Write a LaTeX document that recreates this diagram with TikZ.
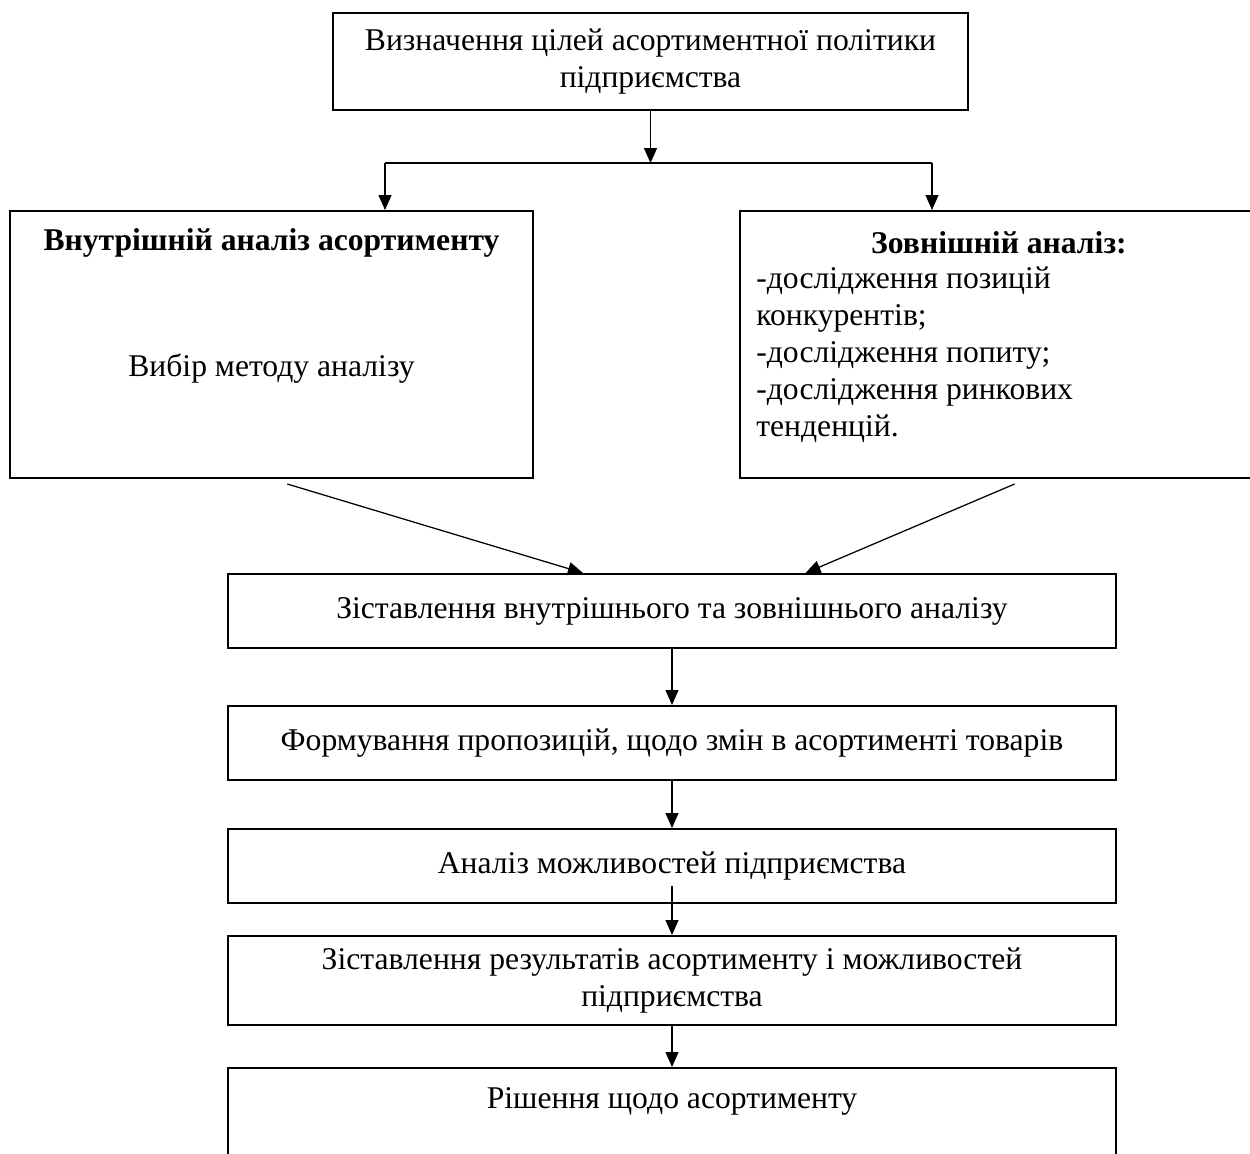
\documentclass[tikz,border=0pt]{standalone}
\usepackage{fontspec}
\setmainfont{Liberation Serif}
\usetikzlibrary{arrows.meta,positioning,calc}

\begin{document}
\begin{tikzpicture}[x=0.2mm,y=-0.2mm,>={Triangle[width=2.6mm,length=3mm]},font=\fontsize{18}{21}\selectfont]
  \tikzset{box/.style={draw,line width=0.4mm,inner sep=0pt,align=center},
    wide/.style={box,minimum width=177.6mm,minimum height=14.8mm},
    link/.style={->,line width=0.25mm}}
  \useasboundingbox (0,0) rectangle (1250,1153);
  \clip (0,0) rectangle (1250,1153);

  \node[box,minimum width=127mm,minimum height=19.4mm] (goals) at (650.5,61.5)
    {Визначення цілей асортиментної політики\\підприємства};

  \node[box,minimum width=104.6mm,minimum height=53.4mm] (inner) at (271.5,344.5) {};
  \node (innertitle) at ($(inner.north)+(0,33)$) {\textbf{Внутрішній аналіз асортименту}};
  \node (innermethod) at ($(inner.north)+(0,159)$) {Вибір методу аналізу};

  \node[box,minimum width=103.6mm,minimum height=53.4mm] (outer) at (999,344.5) {};
  \node (outertitle) at ($(outer.north)+(0,33)$) {\textbf{Зовнішній аналіз:}};
  \node[anchor=west,align=left,inner sep=0pt] (outerlist) at ($(outer.west)+(17,10)$)
    {-дослідження позицій\\
    конкурентів;\\
    -дослідження попиту;\\
    -дослідження ринкових\\
    тенденцій.};

  \node[wide] (compare) at (672,611) {Зіставлення внутрішнього та зовнішнього аналізу};
  \node[wide] (proposal) at (672,743) {Формування пропозицій, щодо змін в асортименті товарів};
  \node[wide] (capacity) at (672,866) {Аналіз можливостей підприємства};
  \node[wide,minimum height=17.8mm] (matching) at (672,980.5)
    {Зіставлення результатів асортименту і можливостей\\підприємства};
  \node[wide,minimum height=24.4mm] (decision) at (672,1129) {};
  \node (decisiontext) at ($(decision.north)+(0,34)$) {Рішення щодо асортименту};

  \coordinate (fork) at (650.5,163);
  \coordinate (forkL) at (385,163);
  \coordinate (forkR) at (932,163);
  \draw[link] (goals) -- (fork);
  \draw[line width=0.25mm] (forkL) -- (forkR);
  \draw[link] (forkL) -- (forkL |- inner.north);
  \draw[link] (forkR) -- (forkR |- outer.north);

  \coordinate (innerfoot) at ($(inner.south west)!0.53!(inner.south east)+(0,5)$);
  \coordinate (outerfoot) at ($(outer.south west)!0.53!(outer.south east)+(0,5)$);
  \draw[link] (innerfoot) -- ($(compare.north west)!0.4!(compare.north east)$);
  \draw[link] (outerfoot) -- ($(compare.north west)!0.65!(compare.north east)$);

  \draw[link] (compare) -- (proposal);
  \draw[link] (proposal) -- (capacity);
  \draw[link] ($(capacity.south)+(0,-18)$) -- (matching);
  \draw[link] (matching) -- (decision);
\end{tikzpicture}
\end{document}
